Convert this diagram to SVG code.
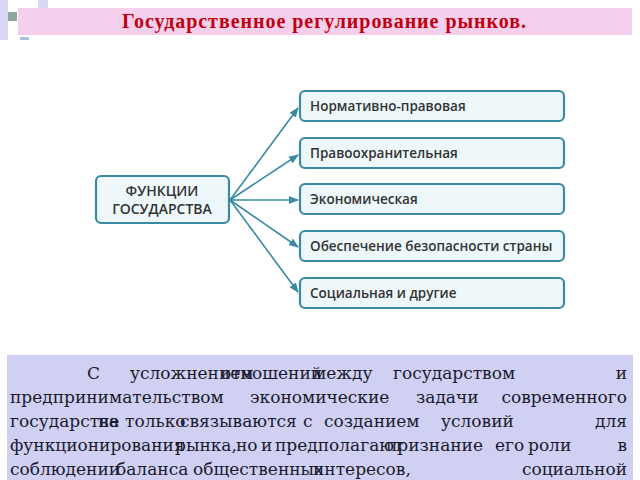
<svg xmlns="http://www.w3.org/2000/svg" width="640" height="480" viewBox="0 0 640 480">
<style>
.n rect{fill:#eef8fb;stroke:#3b8aa3;stroke-width:2.2}
.n text{font-family:"Open Sans","DejaVu Sans",sans-serif;font-size:13.5px;fill:#333;font-weight:600}
.n text.b{font-size:14px}
.c line{stroke:#3b8aa3;stroke-width:1.6;marker-end:url(#a)}
.p{font-family:"DejaVu Serif",serif;font-size:17px;fill:#1a1a2e}
</style>
<defs><marker id="a" markerWidth="10" markerHeight="8" refX="9" refY="4" orient="auto" markerUnits="userSpaceOnUse"><path d="M0,0L10,4L0,8z" fill="#3b8aa3"/></marker></defs>
<rect width="640" height="480" fill="#fff"/>
<rect x="0" y="0" width="8" height="40" fill="#d8d8f4"/>
<rect x="38" y="0" width="10" height="12" fill="#d8d8f4"/>
<rect x="8" y="12" width="9" height="9" fill="#8aa898"/>
<rect x="20" y="37" width="9" height="3" fill="#a8c0d8"/>
<rect x="18" y="8" width="614" height="27" fill="#f5d0ec"/>
<text x="122" y="28" textLength="404" font-family="Liberation Serif,serif" font-weight="bold" font-size="20" fill="#c00010">Государственное регулирование рынков.</text>
<g class="c">
<line x1="230" y1="200" x2="298" y2="108"/>
<line x1="230" y1="200" x2="298" y2="155"/>
<line x1="230" y1="200" x2="298" y2="200"/>
<line x1="230" y1="200" x2="298" y2="247"/>
<line x1="230" y1="200" x2="298" y2="292"/>
</g>
<g id="center" class="n"><rect x="96" y="176" width="133" height="47" rx="5"/><text class="b" x="162" y="196" text-anchor="middle">ФУНКЦИИ</text><text class="b" x="162" y="214" text-anchor="middle">ГОСУДАРСТВА</text></g>
<g id="n1" class="n"><rect x="300" y="91" width="264" height="30" rx="5"/><text x="310" y="111">Нормативно-правовая</text></g>
<g id="n2" class="n"><rect x="300" y="138" width="264" height="30" rx="5"/><text x="310" y="158">Правоохранительная</text></g>
<g id="n3" class="n"><rect x="300" y="184" width="264" height="30" rx="5"/><text x="310" y="204">Экономическая</text></g>
<g id="n4" class="n"><rect x="300" y="231" width="264" height="30" rx="5"/><text x="310" y="251">Обеспечение безопасности страны</text></g>
<g id="n5" class="n"><rect x="300" y="278" width="264" height="30" rx="5"/><text x="310" y="298">Социальная и другие</text></g>
<rect x="7" y="355" width="626" height="125" fill="#d0d0f2"/>
<text class="p" y="379"><tspan x="87">С</tspan><tspan x="130">усложнением</tspan><tspan x="221">отношений</tspan><tspan x="313">между</tspan><tspan x="393">государством</tspan></text>
<text class="p" y="379" x="627" text-anchor="end">и</text>
<text class="p" y="403"><tspan x="10">предпринимательством</tspan><tspan x="250">экономические</tspan><tspan x="416">задачи</tspan></text>
<text class="p" y="403" x="627" text-anchor="end">современного</text>
<text class="p" y="427"><tspan x="10">государства</tspan><tspan x="98">не</tspan><tspan x="125">только</tspan><tspan x="180">связываются</tspan><tspan x="303">с</tspan><tspan x="324">созданием</tspan><tspan x="441">условий</tspan></text>
<text class="p" y="427" x="627" text-anchor="end">для</text>
<text class="p" y="451"><tspan x="10">функционирования</tspan><tspan x="175">рынка,</tspan><tspan x="236">но</tspan><tspan x="261">и</tspan><tspan x="275">предполагают</tspan><tspan x="386">признание</tspan><tspan x="495">его</tspan><tspan x="528">роли</tspan></text>
<text class="p" y="451" x="627" text-anchor="end">в</text>
<text class="p" y="475"><tspan x="10">соблюдении</tspan><tspan x="116">баланса</tspan><tspan x="193">общественных</tspan><tspan x="313">интересов,</tspan></text>
<text class="p" y="475" x="627" text-anchor="end">социальной</text>
</svg>
